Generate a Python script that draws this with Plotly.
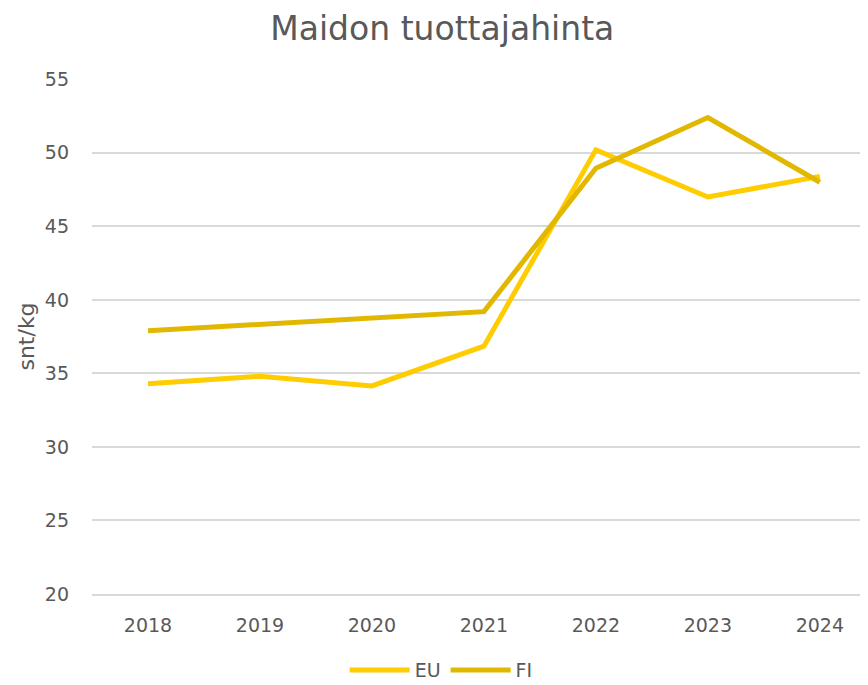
import plotly.graph_objects as go

years = ["2018", "2019", "2020", "2021", "2022", "2023", "2024"]
eu = [34.3, 34.8, 34.15, 36.85, 50.2, 47.0, 48.4]
fi = [37.9, 38.35, 38.8, 39.2, 48.95, 52.4, 48.0]
y_ticks = [20, 25, 30, 35, 40, 45, 50, 55]

font_family = "DejaVu Sans"
grey = "#595959"

fig = go.Figure()
fig.add_trace(go.Scatter(x=years, y=eu, name="EU", mode="lines",
                         line=dict(color="#FFCC00", width=5)))
fig.add_trace(go.Scatter(x=years, y=fi, name="FI", mode="lines",
                         line=dict(color="#E2B700", width=5)))

fig.update_layout(
    width=860, height=677,
    margin=dict(l=84, r=0, t=71, b=91, autoexpand=False),
    paper_bgcolor="white", plot_bgcolor="white",
    font=dict(family=font_family, color=grey, size=19),
    title=dict(text="Maidon tuottajahinta", x=0.505, xanchor="center",
               y=0.970, yanchor="middle",
               font=dict(size=33, color=grey, family=font_family)),
    showlegend=True,
    legend=dict(orientation="h", x=0.45, xanchor="center", y=-0.148, yanchor="middle",
                font=dict(size=19, color=grey), itemwidth=60,
                traceorder="normal"),
    xaxis=dict(type="category", range=[-0.5, 6.43], showgrid=False,
               showline=True, linecolor="#D9D9D9", linewidth=1.5,
               zeroline=False, ticks="", ticklabelstandoff=13,
               tickfont=dict(size=19, color=grey)),
    yaxis=dict(range=[20, 55.02], tickvals=y_ticks, showgrid=True,
               gridcolor="#D9D9D9", gridwidth=1.5, zeroline=False,
               showline=False, ticks="", ticklabelstandoff=22,
               tickfont=dict(size=19, color=grey),
               title=dict(text="snt/kg", font=dict(size=22, color=grey), standoff=4)),
)

fig.write_html("out.html")
